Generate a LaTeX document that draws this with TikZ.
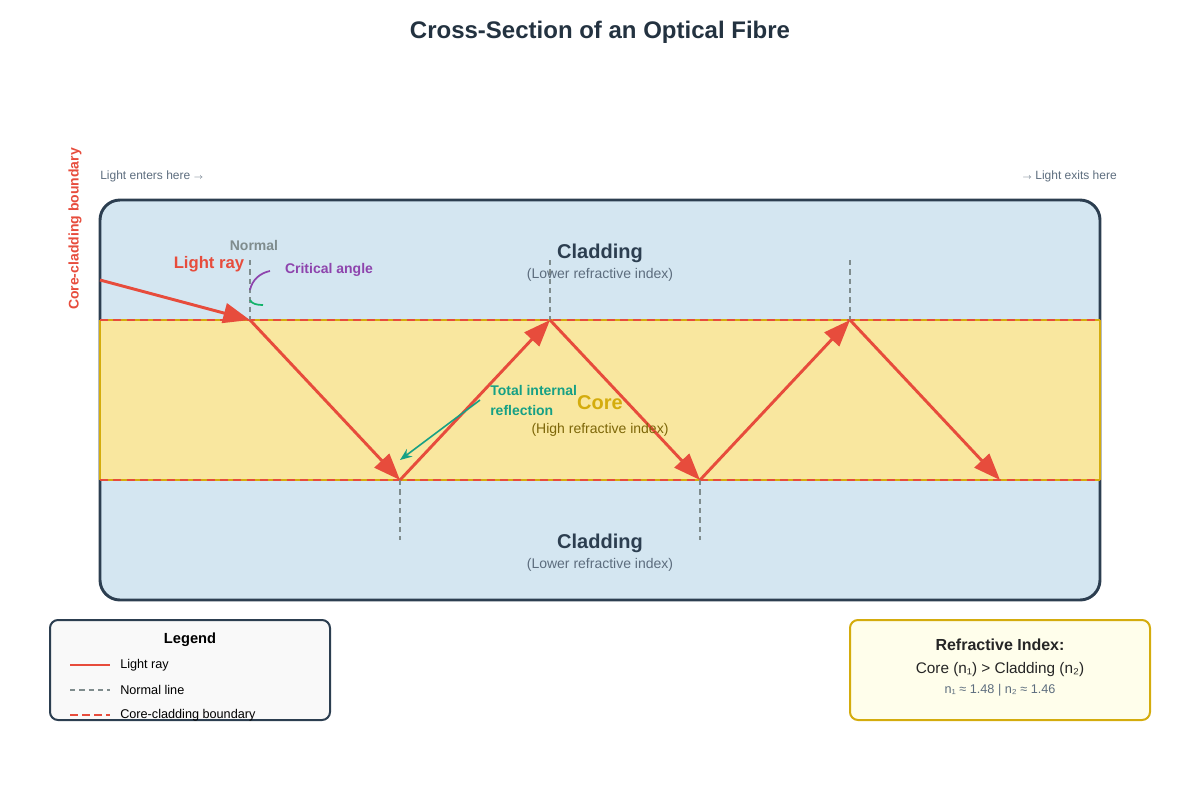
\documentclass[tikz,border=0pt]{standalone}
\usepackage{fontspec}
\setmainfont{Liberation Sans}
\usetikzlibrary{arrows.meta}
\definecolor{ray}{HTML}{E74C3C}
\definecolor{dark}{HTML}{2C3E50}
\definecolor{clad}{HTML}{D4E6F1}
\definecolor{corec}{HTML}{F9E79F}
\definecolor{gold}{HTML}{D4AC0D}
\definecolor{grayn}{HTML}{7F8C8D}
\definecolor{tir}{HTML}{16A085}
\definecolor{purp}{HTML}{8E44AD}
\definecolor{olive}{HTML}{7D6608}
\definecolor{sub}{HTML}{5D6D7E}
\tikzset{
 raysty/.style={ray,line width=2.2pt,-{Triangle[length=20pt,width=15pt]}},
 normsty/.style={grayn,line width=1.1pt,dash pattern=on 4pt off 3pt},
 bound/.style={ray,line width=1.1pt,dash pattern=on 6pt off 4pt},
 lbl/.style={inner sep=0pt},
}
\begin{document}
\begin{tikzpicture}[x=0.75pt,y=-0.75pt]
\useasboundingbox (0,0) rectangle (1200,800);
\node[lbl,font=\fontsize{18}{22}\selectfont\bfseries,text=dark!80!black] (title) at (600,32) {Cross-Section of an Optical Fibre};
\draw[dark,line width=2.2pt,fill=clad,rounded corners=15pt] (100,200) rectangle (1100,600);
\fill[corec] (100,320) rectangle (1100,480);
\draw[gold,line width=1.2pt] (100,320) -- (100,480) (1100,320) -- (1100,480) (100,320)--(1100,320) (100,480)--(1100,480);
\draw[bound] (100,320) -- (1100,320);
\draw[bound] (100,480) -- (1100,480);
% normals
\foreach \x/\a/\b in {250/260/320,550/260/320,850/260/320,400/480/540,700/480/540}
  \draw[normsty] (\x,\a) -- (\x,\b);
% ray
\coordinate (s) at (100,280);
\coordinate (p1) at (250,320); \coordinate (p2) at (400,480);
\coordinate (p3) at (550,320); \coordinate (p4) at (700,480);
\coordinate (p5) at (850,320); \coordinate (p6) at (1000,480);
\draw[raysty] (s) -- (p1);
\draw[raysty] (p1) -- (p2);
\draw[raysty] (p2) -- (p3);
\draw[raysty] (p3) -- (p4);
\draw[raysty] (p4) -- (p5);
\draw[raysty] (p5) -- (p6);
% angles
\draw[purp,line width=1.3pt] (250,290) .. controls (252,280) and (260,273) .. (270,271);
\draw[tir!80!green,line width=1.3pt] (250,300) .. controls (252,304) and (257,305) .. (263,305);
\node[lbl,font=\fontsize{10.5}{12}\selectfont\bfseries,text=grayn] (nl) at (254,245) {Normal};
\node[lbl,font=\fontsize{12.5}{14}\selectfont\bfseries,text=ray] (lr) at (209,264) {Light ray};
\node[lbl,font=\fontsize{10.5}{12}\selectfont\bfseries,text=purp] (ca) at (329,270) {Critical angle};
% texts
\node[lbl,font=\fontsize{15}{18}\selectfont\bfseries,text=dark] (c1) at (600,253) {Cladding};
\node[lbl,font=\fontsize{10.5}{12}\selectfont,text=sub] (c1s) at (600,275) {(Lower refractive index)};
\node[lbl,font=\fontsize{15}{18}\selectfont\bfseries,text=dark] (c2) at (600,543) {Cladding};
\node[lbl,font=\fontsize{10.5}{12}\selectfont,text=sub] (c2s) at (600,565) {(Lower refractive index)};
\node[lbl,font=\fontsize{15}{18}\selectfont\bfseries,text=gold] (co) at (600,403) {Core};
\node[lbl,font=\fontsize{10.5}{12}\selectfont,text=olive] (cos) at (600,430) {(High refractive index)};
\node[lbl,anchor=west,font=\fontsize{10.5}{12}\selectfont\bfseries,text=tir] (t1) at (490,390) {Total internal};
\node[lbl,anchor=west,font=\fontsize{10.5}{12}\selectfont\bfseries,text=tir] (t2) at (490,410) {reflection};
\coordinate (ta) at (480,400);
\coordinate (tb) at (400,460);
\draw[tir,line width=1.2pt,-{Stealth[length=9pt,width=7pt]}] (ta) -- (tb);
\node[lbl,rotate=90,font=\fontsize{10.5}{12}\selectfont\bfseries,text=ray] (cb) at (75,229) {Core-cladding boundary};
\node[lbl,anchor=west,font=\fontsize{9}{11}\selectfont,text=sub] (le) at (100,176) {Light enters here \(\scriptstyle\rightarrow\)};
\node[lbl,anchor=east,font=\fontsize{9}{11}\selectfont,text=sub] (lx) at (1117,176) {\(\scriptstyle\rightarrow\) Light exits here};
% legend
\draw[dark,line width=1.5pt,fill=gray!5,rounded corners=6pt] (50,620) rectangle (330,720);
\node[lbl,font=\fontsize{11}{13}\selectfont\bfseries,text=black] (lg) at (190,640) {Legend};
\draw[ray,line width=2.2pt] (70,665) -- (110,665);
\draw[normsty,line width=1pt] (70,690) -- (110,690);
\draw[bound,line width=1.3pt,dash pattern=on 6pt off 3pt] (70,715) -- (110,715);
\node[lbl,anchor=west,font=\fontsize{9.5}{11}\selectfont] (l1) at (120,665) {Light ray};
\node[lbl,anchor=west,font=\fontsize{9.5}{11}\selectfont] (l2) at (120,690) {Normal line};
\node[lbl,anchor=west,font=\fontsize{9.5}{11}\selectfont] (l3) at (120,715) {Core-cladding boundary};
% refractive index box
\draw[gold,line width=1.5pt,fill=yellow!8,rounded corners=6pt] (850,620) rectangle (1150,720);
\node[lbl,font=\fontsize{12}{14}\selectfont\bfseries,text=black!85] (ri) at (1000,645) {Refractive Index:};
\node[lbl,font=\fontsize{11.5}{14}\selectfont,text=black!85] (ri2) at (1000,670) {Core (n₁) > Cladding (n₂)};
\node[lbl,font=\fontsize{9.5}{11}\selectfont,text=sub] (ri3) at (1000,690) {n₁ ≈ 1.48 | n₂ ≈ 1.46};
\end{tikzpicture}
\end{document}
